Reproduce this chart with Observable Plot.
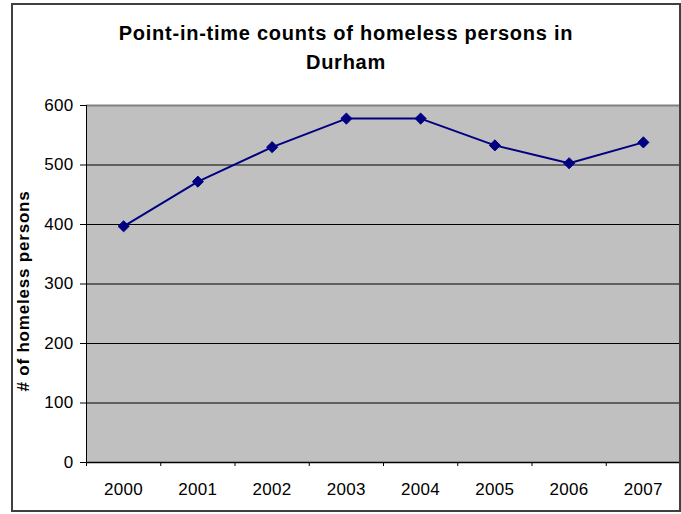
<!DOCTYPE html>
<html>
<head>
<meta charset="utf-8">
<script src="https://cdn.jsdelivr.net/npm/d3@7"></script>
<script src="https://cdn.jsdelivr.net/npm/@observablehq/plot@0.6"></script>
<style>
  body { margin: 0; background: #fff; }
  #chart { position: relative; width: 681px; height: 514px; overflow: hidden; font-family: "Liberation Sans", Arial, sans-serif; }
  #title { position: absolute; left: 11px; top: 18.6px; width: 670px; text-align: center; font-weight: bold; font-size: 20px; letter-spacing: 0.75px; line-height: 29px; color: #000; }
  #plot { position: absolute; left: 0; top: 80px; }
  #border { position: absolute; left: 11px; top: 3px; width: 666px; height: 505px; border: 2px solid #404040; pointer-events: none; }
  #plot svg text { letter-spacing: 0.3px; }
</style>
</head>
<body>
<div id="chart">
  <div id="title">Point-in-time counts of homeless persons in<br>Durham</div>
  <div id="plot"></div>
  <div id="border"></div>
</div>
<script>
// Point-in-time counts per year
const years = [2000, 2001, 2002, 2003, 2004, 2005, 2006, 2007];
const counts = [397, 472, 530, 578, 578, 533, 503, 538];
const yTicks = [0, 100, 200, 300, 400, 500, 600];
const yLabel = "# of homeless persons";

const data = years.map((year, i) => ({year, count: counts[i]}));
// category boundaries, where the x tick marks sit
const boundaries = d3.range(years.length + 1).map(i => years[0] - 0.5 + i);

const chart = Plot.plot({
  width: 681,
  height: 434,
  marginTop: 25,
  marginBottom: 52,
  marginLeft: 86,
  marginRight: 1,
  style: {fontFamily: "'Liberation Sans', Arial, sans-serif", fontSize: "17px", color: "#000", background: "transparent"},
  x: {domain: [years[0] - 0.5, years[years.length - 1] + 0.5]},
  y: {domain: [0, 600]},
  marks: [
    Plot.frame({fill: "#c0c0c0", stroke: null}),
    Plot.ruleY(yTicks.filter(v => v > 0 && v < 600), {stroke: "#000", strokeWidth: 1}),
    Plot.ruleY([600], {stroke: "#808080", strokeWidth: 2}),
    Plot.axisY({ticks: yTicks, tickSize: 6, tickPadding: 7, label: null, fontSize: 17, tickFormat: d => String(d)}),
    Plot.axisX({ticks: boundaries, tickSize: 4, tickFormat: () => "", label: null}),
    Plot.axisX({ticks: years, tickSize: 0, tickPadding: 20, fontSize: 17, tickFormat: d => String(d), label: null}),
    Plot.ruleX([years[0] - 0.5], {stroke: "#000", strokeWidth: 1}),
    Plot.ruleY([0], {stroke: "#000", strokeWidth: 1.5}),
    Plot.line(data, {x: "year", y: "count", stroke: "#000080", strokeWidth: 2}),
    Plot.dot(data, {x: "year", y: "count", symbol: "diamond2", r: 5, fill: "#000080", stroke: "#000080", strokeWidth: 1}),
    Plot.text([yLabel], {frameAnchor: "left", textAnchor: "middle", rotate: -90, dx: -63.4, dy: 7, fontWeight: "bold", fontSize: 17, fill: "#000"})
  ]
});

d3.select(chart).selectAll("text")
  .filter(function () { return this.textContent === yLabel; })
  .style("letter-spacing", "0.8px");

document.getElementById("plot").appendChild(chart);
</script>
</body>
</html>
